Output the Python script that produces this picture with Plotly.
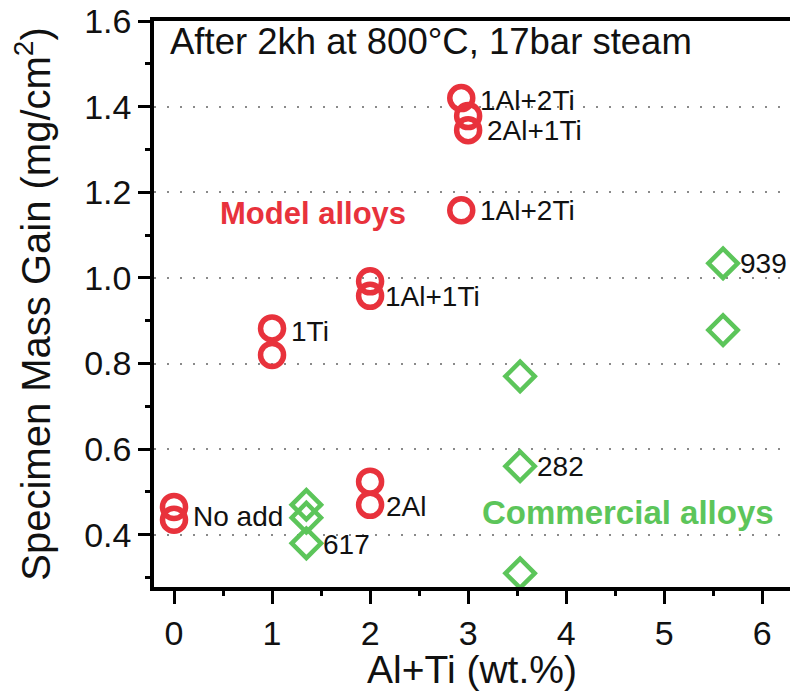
import plotly.graph_objects as go

# Model alloys (open circles)
model_x = [0, 0, 1, 1, 2, 2, 2, 2, 2.93, 3.0, 3.0, 2.93]
model_y = [0.465, 0.435, 0.882, 0.82, 0.992, 0.958, 0.524, 0.47, 1.42, 1.378, 1.345, 1.158]

# Commercial alloys (open diamonds)
comm_x = [1.35, 1.35, 1.35, 3.53, 3.53, 3.53, 5.6, 5.6]
comm_y = [0.47, 0.44, 0.38, 0.77, 0.56, 0.31, 1.034, 0.878]

# Point labels: text, x, y, horizontal shift (px), vertical shift (px)
label_text = ["1Al+2Ti", "2Al+1Ti", "1Al+2Ti", "1Al+1Ti", "1Ti", "No add", "2Al", "617", "282", "939"]
label_x = [2.93, 3.0, 2.93, 2, 1, 0, 2, 1.35, 3.53, 5.6]
label_y = [1.42, 1.345, 1.158, 0.958, 0.882, 0.435, 0.47, 0.38, 0.56, 1.034]
label_dx = [17, 17, 17, 13, 17, 17, 14, 15, 15, 15]
label_dy = [-2, 0, 0, -1, -3, 3, -2, -1, 0, 0]

RED = "#e8323c"
GREEN = "#5cc55a"
FONT = "Liberation Sans, Arial, Helvetica, sans-serif"

fig = go.Figure()
fig.add_trace(go.Scatter(
    x=model_x, y=model_y, mode="markers",
    marker=dict(symbol="circle-open", size=23, color=RED, line=dict(width=5.5, color=RED)),
    showlegend=False, cliponaxis=False,
))
fig.add_trace(go.Scatter(
    x=comm_x, y=comm_y, mode="markers",
    marker=dict(symbol="diamond-open", size=22.5, color=GREEN, line=dict(width=4.5, color=GREEN)),
    showlegend=False, cliponaxis=False,
))

annotations = []
for t, x, y, dx, dy in zip(label_text, label_x, label_y, label_dx, label_dy):
    annotations.append(dict(
        x=x, y=y, xref="x", yref="y", text=t, showarrow=False,
        xanchor="left", yanchor="middle", xshift=dx, yshift=dy,
        font=dict(family=FONT, size=28, color="#111111"),
    ))

annotations.append(dict(
    x=0.45, y=1.151, xref="x", yref="y", text="<b>Model alloys</b>", showarrow=False,
    xanchor="left", yanchor="middle",
    font=dict(family=FONT, size=31, color=RED),
))
annotations.append(dict(
    x=3.12, y=0.452, xref="x", yref="y", text="<b>Commercial alloys</b>", showarrow=False,
    xanchor="left", yanchor="middle",
    font=dict(family=FONT, size=33, color=GREEN),
))
annotations.append(dict(
    x=-0.065, y=1.552, xref="x", yref="y", text="After 2kh at 800°C, 17bar steam", showarrow=False,
    xanchor="left", yanchor="middle",
    font=dict(family=FONT, size=36.5, color="#111111"),
))

fig.update_layout(
    width=790, height=691,
    margin=dict(l=154, r=0, t=21, b=104),
    paper_bgcolor="white", plot_bgcolor="white",
    font=dict(family=FONT, color="#111111"),
    annotations=annotations,
    xaxis=dict(
        range=[-0.204, 6.283], tickmode="linear", tick0=0, dtick=1,
        showgrid=False, zeroline=False,
        showline=True, linewidth=3.5, linecolor="black", mirror=True,
        ticks="outside", ticklen=13, tickwidth=3, tickcolor="black",
        minor=dict(ticks="outside", dtick=0.5, tick0=0, ticklen=5, tickwidth=3, tickcolor="black", showgrid=False),
        tickfont=dict(family=FONT, size=34, color="#111111"),
        title=dict(text="Al+Ti (wt.%)", font=dict(family=FONT, size=39, color="#111111"), standoff=0),
    ),
    yaxis=dict(
        range=[0.278, 1.6], tickmode="linear", tick0=0.4, dtick=0.2,
        tickformat=".1f",
        showgrid=True, gridcolor="#8a8a8a", gridwidth=2, griddash="2px,11px",
        zeroline=False,
        showline=True, linewidth=3.5, linecolor="black", mirror=False,
        ticks="outside", ticklen=12, tickwidth=3, tickcolor="black",
        minor=dict(ticks="outside", dtick=0.1, tick0=0.3, ticklen=5, tickwidth=3, tickcolor="black", showgrid=False),
        tickfont=dict(family=FONT, size=34, color="#111111"),
        title=dict(text="Specimen Mass Gain (mg/cm<sup>2</sup>)", font=dict(family=FONT, size=40, color="#111111"), standoff=22),
    ),
)

fig.write_html("out.html")
